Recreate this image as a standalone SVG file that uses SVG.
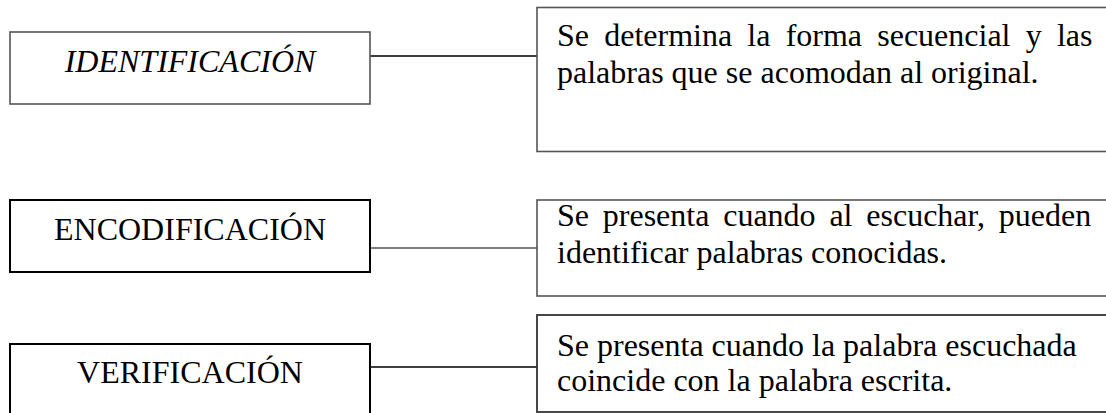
<svg xmlns="http://www.w3.org/2000/svg" width="1106" height="413" viewBox="0 0 1106 413">
<style>
  .bg{fill:#ffffff}
  .gbox{fill:#ffffff;stroke:#555555;stroke-width:1.6}
  .kbox{fill:#ffffff;stroke:#000000;stroke-width:2}
  .dbox{fill:#ffffff;stroke:#333333;stroke-width:1.8}
  .kline{stroke:#000000;stroke-width:1.6;fill:none}
  .gline{stroke:#555555;stroke-width:1.6;fill:none}
  .lbl{font-family:"Liberation Serif","Times New Roman",serif;font-size:32px;fill:#000000;text-anchor:middle}
  .it{font-style:italic}
  .desc{font-family:"Liberation Serif","Times New Roman",serif;font-size:32px;fill:#000000}
</style>
<rect class="bg" x="0" y="0" width="1106" height="413"/>
<g id="connectors">
  <line class="kline" x1="370" y1="56" x2="537" y2="56"/>
  <line class="gline" x1="370" y1="248" x2="537" y2="248"/>
  <line class="kline" x1="370" y1="367" x2="537" y2="367"/>
</g>
<g id="identificacion">
  <rect class="gbox" x="10" y="32" width="360" height="72"/>
  <text class="lbl it" x="190" y="72">IDENTIFICACIÓN</text>
</g>
<g id="desc-identificacion">
  <rect class="gbox" x="537" y="7.5" width="600" height="144"/>
  <text class="desc" x="557" y="46" word-spacing="7.2">Se determina la forma secuencial y las</text>
  <text class="desc" x="557" y="83">palabras que se acomodan al original.</text>
</g>
<g id="encodificacion">
  <rect class="kbox" x="10" y="200" width="360" height="72"/>
  <text class="lbl" x="190" y="240">ENCODIFICACIÓN</text>
</g>
<g id="desc-encodificacion">
  <rect class="gbox" x="537" y="200" width="600" height="96"/>
  <text class="desc" x="557" y="226" word-spacing="5.8">Se presenta cuando al escuchar, pueden</text>
  <text class="desc" x="557" y="263">identificar palabras conocidas.</text>
</g>
<g id="verificacion">
  <rect class="kbox" x="10" y="344" width="360" height="90"/>
  <text class="lbl" x="190" y="383">VERIFICACIÓN</text>
</g>
<g id="desc-verificacion">
  <rect class="dbox" x="537" y="315" width="600" height="97"/>
  <text class="desc" x="557" y="356">Se presenta cuando la palabra escuchada</text>
  <text class="desc" x="557" y="391">coincide con la palabra escrita.</text>
</g>
</svg>
